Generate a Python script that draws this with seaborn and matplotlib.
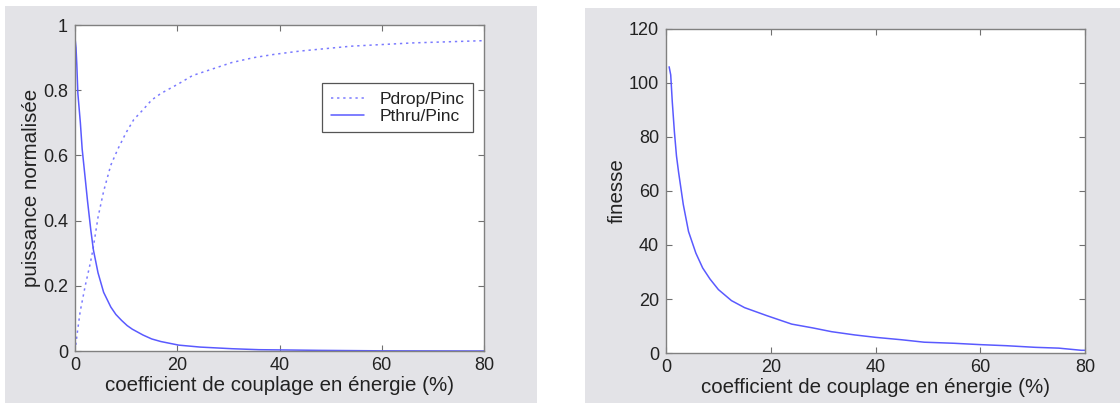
import matplotlib
matplotlib.use("Agg")
import matplotlib.pyplot as plt
from matplotlib.patches import Rectangle
from matplotlib.ticker import FuncFormatter
import seaborn as sns
import pandas as pd

# ---- data ----
drop_x = [0, 0.4, 1.0, 2.0, 3.0, 3.5, 4.5, 5.6, 7.0, 8.4, 10.0, 11.5, 13.3, 15.0,
          16.8, 20.3, 23.0, 25.9, 30.7, 35.0, 39.0, 44.0, 48.0, 54.0, 60.0, 66.0, 72.0, 80.0]
drop_y = [0.0, 0.05, 0.12, 0.20, 0.27, 0.31, 0.41, 0.49, 0.57, 0.62, 0.67, 0.71, 0.74, 0.77,
          0.79, 0.82, 0.845, 0.86, 0.885, 0.90, 0.91, 0.92, 0.926, 0.935, 0.94, 0.945, 0.948, 0.952]

thru_x = [0, 0.2, 0.35, 0.56, 1.05, 1.4, 1.96, 2.45, 3.1, 3.6, 4.5, 5.6, 7.0, 8.0, 9.1, 10.2, 11.2,
          13.3, 15.0, 16.8, 20.3, 24.5, 30.7, 36.0, 42.0, 47.5, 60.0, 80.0]
thru_y = [0.96, 0.93, 0.88, 0.79, 0.70, 0.62, 0.535, 0.46, 0.37, 0.31, 0.24, 0.18, 0.135, 0.112, 0.094, 0.078, 0.067,
          0.049, 0.037, 0.029, 0.018, 0.012, 0.007, 0.004, 0.003, 0.002, 0.0005, 0.0]

fin_x = [0.6, 0.9, 1.2, 1.6, 2.0, 2.4, 3.3, 4.3, 5.7, 7.0, 8.4, 10.0, 12.5, 15.0, 19.3,
         24.0, 28.0, 31.6, 36.0, 40.0, 45.0, 49.3, 55.0, 60.0, 65.0, 70.5, 75.0, 79.3, 80.0]
fin_y = [106, 103, 93, 82, 73, 67, 55, 45, 37, 31.5, 27.4, 23.5, 19.4, 16.8, 13.8,
         10.7, 9.3, 7.9, 6.7, 5.8, 4.9, 4.0, 3.6, 3.1, 2.7, 2.1, 1.8, 1.0, 1.0]

x_ticks = [0, 20, 40, 60, 80]
left_y_ticks = [0, 0.2, 0.4, 0.6, 0.8, 1]
right_y_ticks = [0, 20, 40, 60, 80, 100, 120]

xlabel = "coefficient de couplage en énergie (%)"
left_ylabel = "puissance normalisée"
right_ylabel = "finesse"
series_names = ["Pdrop/Pinc", "Pthru/Pinc"]

# ---- style ----
sns.set_theme(style="white")
plt.rcParams["font.family"] = ["Liberation Sans", "DejaVu Sans"]
plt.rcParams["font.size"] = 13

W, H = 1120, 403
fig = plt.figure(figsize=(W / 100, H / 100), dpi=100, facecolor="white")

grey = "#e3e3e7"
fig.patches.append(Rectangle((5 / W, 0), (537 - 5) / W, (403 - 6) / H,
                             transform=fig.transFigure, facecolor=grey, edgecolor="none", zorder=-10))
fig.patches.append(Rectangle((585 / W, 0), (1120 - 585) / W, (403 - 8) / H,
                             transform=fig.transFigure, facecolor=grey, edgecolor="none", zorder=-10))

ax1 = fig.add_axes([75 / W, (H - 351) / H, (484 - 75) / W, (351 - 25) / H])
ax2 = fig.add_axes([666 / W, (H - 353) / H, (1085 - 666) / W, (353 - 29) / H])
ax1.set_zorder(2)
ax2.set_zorder(2)

line_blue = "#5a5aff"

df_drop = pd.DataFrame({"x": drop_x, "y": drop_y})
df_thru = pd.DataFrame({"x": thru_x, "y": thru_y})
df_fin = pd.DataFrame({"x": fin_x, "y": fin_y})

sns.lineplot(data=df_drop, x="x", y="y", ax=ax1, color="#7a7aff", lw=1.1,
             linestyle=(0, (1.5, 2.5)), label=series_names[0])
sns.lineplot(data=df_thru, x="x", y="y", ax=ax1, color=line_blue, lw=1.1,
             label=series_names[1])
sns.lineplot(data=df_fin, x="x", y="y", ax=ax2, color=line_blue, lw=1.1)

fmt = FuncFormatter(lambda v, p: f"{v:g}")
for ax, yt, yl in [(ax1, left_y_ticks, left_ylabel), (ax2, right_y_ticks, right_ylabel)]:
    ax.set_facecolor("white")
    ax.set_xlim(0, 80)
    ax.set_ylim(yt[0], yt[-1])
    ax.set_xticks(x_ticks)
    ax.set_yticks(yt)
    ax.xaxis.set_major_formatter(fmt)
    ax.yaxis.set_major_formatter(fmt)
    ax.tick_params(direction="in", length=4, width=0.8, color="#707070",
                   top=True, right=True, bottom=True, left=True,
                   labelsize=13, labelcolor="#222222")
    ax.tick_params(axis="x", pad=4)
    ax.tick_params(axis="y", pad=5)
    for s in ax.spines.values():
        s.set_visible(True)
        s.set_color("#808080")
        s.set_linewidth(1.0)
    ax.set_xlabel(xlabel, fontsize=14.8, color="#222222", labelpad=2)
    ax.set_ylabel(yl, fontsize=14.8, color="#222222", labelpad=1.5)

leg = ax1.legend(loc="upper right", bbox_to_anchor=(0.973, 0.822), fontsize=12.5,
                 frameon=True, fancybox=False, shadow=False, framealpha=1,
                 handlelength=1.9, handletextpad=0.9, borderpad=0.5,
                 labelspacing=0.1, borderaxespad=0)
leg.get_frame().set_edgecolor("#555555")
leg.get_frame().set_linewidth(0.9)
for t in leg.get_texts():
    t.set_color("#222222")

fig.savefig("out.png", dpi=100, facecolor="white")
